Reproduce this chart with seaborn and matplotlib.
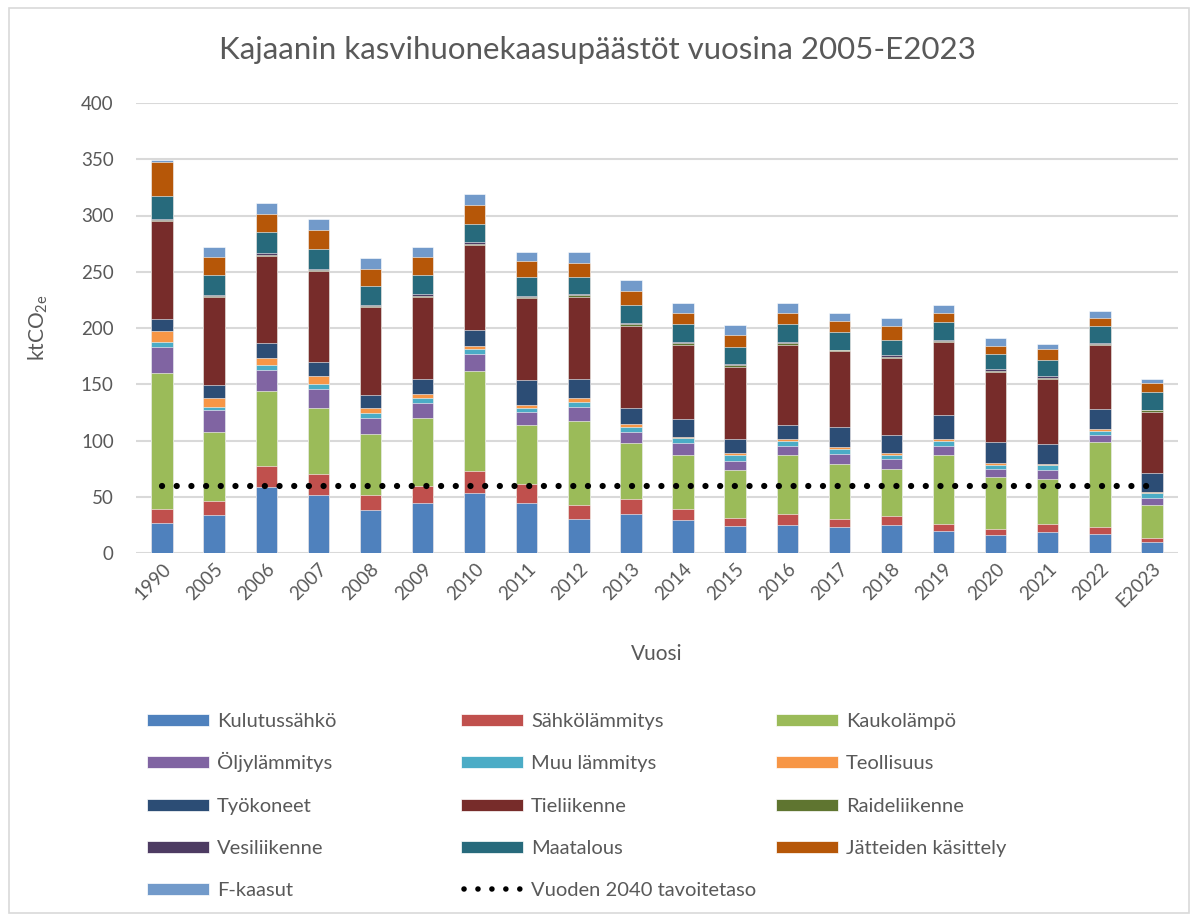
import numpy as np
import matplotlib
matplotlib.use("Agg")
import matplotlib.pyplot as plt
from matplotlib.patches import Rectangle
from matplotlib.lines import Line2D
import seaborn as sns

# data (ktCO2e)
vuodet = ["1990", "2005", "2006", "2007", "2008", "2009", "2010", "2011", "2012", "2013",
          "2014", "2015", "2016", "2017", "2018", "2019", "2020", "2021", "2022", "E2023"]

kulutussahko = [27, 33.5, 58.4, 51.9, 37.9, 44.4, 53.3, 44.4, 30.5, 35, 29.3, 24, 24.9, 22.8, 24.9, 19.6, 16.3, 18.4, 17.2, 9.8]
sahkolammitys = [12, 13, 18.7, 18.6, 14, 15.4, 19.6, 16.6, 12.2, 13, 9.8, 7.4, 9.8, 7.7, 7.7, 6.5, 5.3, 7.7, 5.6, 3.2]
kaukolampo = [121, 60.8, 67.2, 58.7, 54.2, 60.5, 88.9, 52.8, 74.3, 49.8, 47.7, 42.4, 52.1, 48.9, 42.1, 60.7, 45.7, 40, 75.9, 29.4]
oljylammitys = [23, 19.5, 18.4, 16.8, 14.2, 13, 14.8, 11.8, 13, 9.5, 11, 8.2, 8.6, 8.6, 8.9, 8.6, 7.6, 7.7, 6.5, 6.5]
muu_lammitys = [4.5, 3.2, 4.1, 4.5, 4.1, 4.7, 4.4, 3.6, 4.5, 4.4, 4.1, 4.8, 4.2, 4.4, 3.2, 4.2, 3.3, 4.1, 3.2, 4.4]
teollisuus = [9.5, 7.8, 6.8, 6.5, 4.8, 3, 3.3, 2.6, 3, 3.2, 1.5, 2.1, 2, 2.1, 2.1, 1.4, 2.1, 1.5, 2.1, 0.9]
tyokoneet = [10.7, 11.5, 12.8, 13, 11.5, 14, 14.2, 22.3, 17.5, 14.3, 16, 12.1, 12.2, 17.2, 16.3, 21.4, 18.4, 17.2, 17.5, 17.2]
tieliikenne = [87, 78, 77.6, 80.4, 77.7, 72.8, 75.3, 72.9, 72.8, 72.8, 65.8, 64.6, 71.4, 67.9, 68.4, 65.2, 62.5, 58.4, 57.2, 54.2]
raideliikenne = [1.0, 1.1, 1.2, 1.0, 1.0, 1.0, 1.2, 1.0, 1.2, 1.3, 1.1, 1.3, 1.1, 0.6, 1.0, 1.0, 1.0, 1.0, 0.6, 1.2]
vesiliikenne = [0.8, 1.0, 1.2, 0.8, 0.8, 1.0, 1.2, 0.7, 1.2, 1.2, 1.0, 1.3, 1.0, 0.5, 1.1, 1.0, 1.1, 1.0, 0.6, 0.6]
maatalous = [21, 17.7, 18.9, 17.7, 17.4, 17.3, 16.5, 16.3, 14.8, 15.9, 16.5, 14.9, 16.5, 16, 13.9, 15.5, 13.6, 14.3, 15.4, 15.7]
jatteet = [30.5, 16.3, 16.3, 17.2, 15.1, 16.3, 16.3, 14.2, 13, 12.8, 9.8, 10.9, 9.8, 9.3, 12.2, 8.5, 7.4, 9.7, 7.4, 7.7]
f_kaasut = [1.2, 8.6, 9.5, 9.8, 9.8, 8.6, 9.8, 8.7, 9.9, 9.7, 8.6, 8.7, 8.6, 7.6, 7.4, 6.6, 6.5, 4.5, 5.6, 4.2]

tavoitetaso = [60] * len(vuodet)

sektorit = ["Kulutussähkö", "Sähkölämmitys", "Kaukolämpö", "Öljylämmitys", "Muu lämmitys",
            "Teollisuus", "Työkoneet", "Tieliikenne", "Raideliikenne", "Vesiliikenne",
            "Maatalous", "Jätteiden käsittely", "F-kaasut"]
arvot = [kulutussahko, sahkolammitys, kaukolampo, oljylammitys, muu_lammitys, teollisuus,
         tyokoneet, tieliikenne, raideliikenne, vesiliikenne, maatalous, jatteet, f_kaasut]
varit = ["#4F81BD", "#C0504D", "#9BBB59", "#8064A2", "#4BACC6", "#F79646",
         "#2C4D75", "#772C2A", "#5F7530", "#4D3B62", "#276A7C", "#B65708", "#729ACA"]

sns.set_theme(style="white")
plt.rcParams['font.family'] = ['Lato', 'DejaVu Sans']
tekstivari = "#595959"

W, H = 1195, 915
fig = plt.figure(figsize=(W / 100, H / 100), dpi=100)
ax = fig.add_axes([136 / W, 1 - 553 / H, (1178 - 136) / W, (553 - 103) / H])

# stacked bars: draw cumulative totals from top layer down
kumulat = np.cumsum(np.array(arvot, dtype=float), axis=0)
for i in range(len(sektorit) - 1, -1, -1):
    sns.barplot(x=vuodet, y=kumulat[i], color=varit[i], saturation=1, width=0.41,
                errorbar=None, edgecolor="white", linewidth=0.4, ax=ax, zorder=2)

sns.lineplot(x=np.arange(len(vuodet)), y=tavoitetaso, color="black", linewidth=4.5,
             linestyle=(0, (0.01, 2.34)), dash_capstyle="round", ax=ax, zorder=3)

ax.set_ylim(0, 400)
ax.set_xlim(-0.5, len(vuodet) - 0.5)
ax.set_yticks(np.arange(0, 401, 50))
ax.yaxis.grid(True, color="#D9D9D9", linewidth=1.5)
ax.set_axisbelow(True)
for s in ax.spines.values():
    s.set_visible(False)
ax.tick_params(axis="y", length=0, labelsize=13.5, colors=tekstivari, pad=16)
ax.tick_params(axis="x", length=0, labelsize=13.5, colors=tekstivari, pad=5)
plt.setp(ax.get_xticklabels(), rotation=45, ha="right", rotation_mode="anchor")
ax.set_xlabel("Vuosi", fontsize=15, color=tekstivari, labelpad=24)
ax.set_ylabel(r"ktCO$\mathregular{_{2e}}$", fontsize=15, color=tekstivari, labelpad=22)

fig.text(0.5, 1 - 50 / H, "Kajaanin kasvihuonekaasupäästöt vuosina 2005-E2023",
         ha="center", va="center", fontsize=22.5, color=tekstivari)

# legend: three columns, row-wise order like the original
nimet = sektorit + ["Vuoden 2040 tavoitetaso"]
sarake_x = [147, 461, 776]
for n, nimi in enumerate(nimet):
    rivi, sarake = divmod(n, 3)
    x0 = sarake_x[sarake]
    yc = 720 + 42.3 * rivi
    if n < len(varit):
        fig.add_artist(Rectangle((x0 / W, 1 - (yc + 6) / H), 62 / W, 12 / H,
                                 transform=fig.transFigure, facecolor=varit[n],
                                 edgecolor="white", linewidth=0.5))
    else:
        fig.add_artist(Line2D([(x0 + 3) / W, (x0 + 60) / W], [1 - yc / H, 1 - yc / H],
                              transform=fig.transFigure, color="black", linewidth=4,
                              linestyle=(0, (0.01, 2.5)), dash_capstyle="round"))
    fig.text((x0 + 70) / W, 1 - (yc + 7) / H, nimi, ha="left", va="baseline",
             fontsize=14.5, color=tekstivari)

fig.add_artist(Rectangle((9 / W, 0.002), 1180 / W, 1 - 10 / H, transform=fig.transFigure,
                         fill=False, edgecolor="#D9D9D9", linewidth=1.2))

fig.savefig("out.png", dpi=100)
